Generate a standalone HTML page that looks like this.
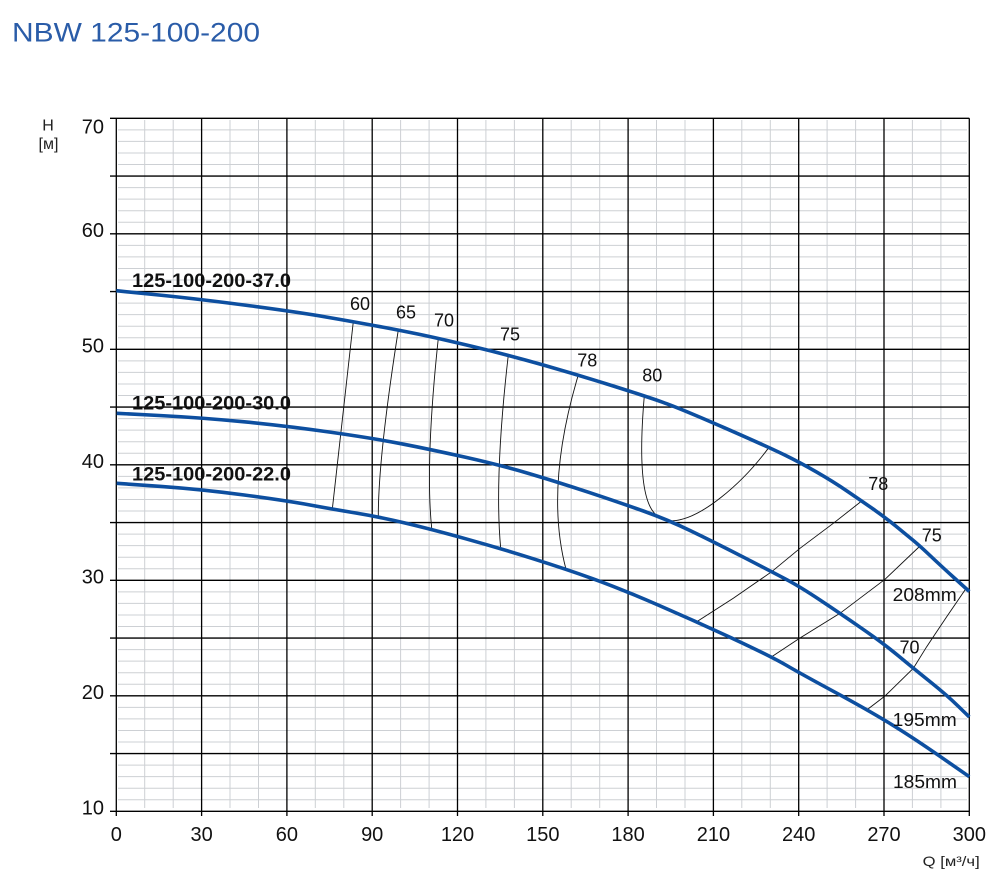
<!DOCTYPE html>
<html>
<head>
<meta charset="utf-8">
<style>
html,body{margin:0;padding:0;background:#fff;}
svg{display:block;}
text{font-family:"Liberation Sans","Noto Sans CJK SC",sans-serif;}
</style>
</head>
<body>
<svg width="1001" height="882" viewBox="0 0 1001 882" xmlns="http://www.w3.org/2000/svg">
<rect x="0" y="0" width="1001" height="882" fill="#fff"/>

<!-- title -->
<text x="12" y="41.5" font-size="27" fill="#2a5ca8" textLength="248" lengthAdjust="spacingAndGlyphs">NBW 125-100-200</text>

<!-- minor grid horizontal -->
<path fill="none" stroke="#cdd0d4" stroke-width="1" d="
M118 799.75H967M118 788.2H967M118 776.65H967M118 765.1H967
M118 742H967M118 730.45H967M118 718.9H967M118 707.35H967
M118 684.25H967M118 672.7H967M118 661.15H967M118 649.6H967
M118 626.5H967M118 614.95H967M118 603.4H967M118 591.85H967
M118 568.75H967M118 557.2H967M118 545.65H967M118 534.1H967
M118 511H967M118 499.45H967M118 487.9H967M118 476.35H967
M118 453.25H967M118 441.7H967M118 430.15H967M118 418.6H967
M118 395.5H967M118 383.95H967M118 372.4H967M118 360.85H967
M118 337.75H967M118 326.2H967M118 314.65H967M118 303.1H967
M118 280H967M118 268.45H967M118 256.9H967M118 245.35H967
M118 222.25H967M118 210.7H967M118 199.15H967M118 187.6H967
M118 164.5H967M118 152.95H967M118 141.4H967M118 129.85H967"/>

<!-- minor grid vertical -->
<path fill="none" stroke="#cdd0d4" stroke-width="1" d="
M144.7 120V808M173.2 120V808M230 120V808M258.5 120V808
M315.3 120V808M343.8 120V808M400.6 120V808M429.1 120V808
M485.9 120V808M514.4 120V808M571.2 120V808M599.7 120V808
M656.5 120V808M685 120V808M741.8 120V808M770.3 120V808
M827.1 120V808M855.6 120V808M912.4 120V808M940.9 120V808"/>

<!-- major grid horizontal (with left ticks) -->
<path fill="none" stroke="#000" stroke-width="1.3" d="
M110 811.3H969.3M110 753.55H969.3M110 695.8H969.3M110 638.05H969.3
M110 580.3H969.3M110 522.55H969.3M110 464.8H969.3M110 407.05H969.3
M110 349.3H969.3M110 291.55H969.3M110 233.8H969.3M110 176.05H969.3
M110 118.3H969.3"/>

<!-- major grid vertical (with bottom ticks) -->
<path fill="none" stroke="#000" stroke-width="1.3" d="
M116.3 118.3V816M201.6 118.3V816M286.9 118.3V816M372.2 118.3V816
M457.5 118.3V816M542.8 118.3V816M628.1 118.3V816M713.4 118.3V816
M798.7 118.3V816M884 118.3V816M969.3 118.3V816"/>

<!-- y tick labels -->
<g font-size="20" fill="#111" text-anchor="end">
<text x="104" y="133.3">70</text>
<text x="104" y="236.8">60</text>
<text x="104" y="352.3">50</text>
<text x="104" y="467.8">40</text>
<text x="104" y="583.3">30</text>
<text x="104" y="698.8">20</text>
<text x="104" y="814.3">10</text>
</g>
<!-- x tick labels -->
<g font-size="20" fill="#111" text-anchor="middle">
<text x="116.3" y="841">0</text>
<text x="201.6" y="841">30</text>
<text x="286.9" y="841">60</text>
<text x="372.2" y="841">90</text>
<text x="457.5" y="841">120</text>
<text x="542.8" y="841">150</text>
<text x="628.1" y="841">180</text>
<text x="713.4" y="841">210</text>
<text x="798.7" y="841">240</text>
<text x="884" y="841">270</text>
<text x="969.3" y="841">300</text>
</g>

<!-- axis titles -->
<text x="48" y="130.5" font-size="16" fill="#222" text-anchor="middle">H</text>
<text x="48.5" y="149" font-size="16" fill="#222" text-anchor="middle">[м]</text>
<text x="922.7" y="866" font-size="14" fill="#222" textLength="57" lengthAdjust="spacingAndGlyphs">Q [м³/ч]</text>

<!-- efficiency lines -->
<g fill="none" stroke="#111" stroke-width="0.9">
<path d="M353.3,321.7 Q338.6,451.1 332.3,509.3"/>
<path d="M398.3,330 Q378.3,457 378.3,516"/>
<path d="M438.3,338.3 Q425,463.3 431.7,528.3"/>
<path d="M508.3,355 Q494.1,478.35 500.7,548.3"/>
<path d="M578.3,375 Q544.45,487.85 566,569.3"/>
<path d="M644.3,396 C640.5,440 639,490 652,510 C658,519 665,521.5 672,520.8 C700,520 742,484 769,447.3"/>
<path d="M861.7,501 L833.3,523.3 L800,548.3 L771.7,571.7 L733.3,598.3 L696.7,621.7"/>
<path d="M920,546 L885,579.3 L840,613.3 L800,638 L771.7,656.7"/>
<path d="M965,590 L946.7,616.7 L926.7,646.7 L913.3,668.3 L885,696 L866.7,710"/>
</g>

<!-- pump curves -->
<g fill="none" stroke="#0d4fa0" stroke-width="3.6" stroke-linejoin="round" stroke-linecap="butt">
<path d="M116.3,290.7 L158.8,295 Q201.3,299.3 250.65,305.9 Q300,312.5 326.65,317.1 Q353.3,321.7 375.8,325.85 Q398.3,330 418.3,334.15 Q438.3,338.3 473.3,346.65 Q508.3,355 543.3,365 Q578.3,375 611.65,385.5 Q645,396 662.5,402.15 Q680,408.3 724.5,427.8 Q769,447.3 784.5,454.9 Q800,462.5 816.65,472.1 Q833.3,481.7 847.5,491.35 Q861.7,501 873.35,509.15 Q885,517.3 895.85,526.15 Q906.7,535 913.35,540.5 Q920,546 930,555.5 Q940,565 954.65,578.25 L969.3,591.5"/>
<path d="M116.7,413.3 L159.2,415.5 Q201.7,417.7 244.2,421.85 Q286.7,426 330,432.15 Q373.3,438.3 401.65,443.8 Q430,449.3 465,457.15 Q500,465 528.35,473.35 Q556.7,481.7 588.35,492.2 Q620,502.7 643.35,511 Q666.7,519.3 690,530.5 Q713.3,541.7 742.5,556.7 Q771.7,571.7 785.85,579.2 Q800,586.7 820,600 Q840,613.3 861.65,628.3 Q883.3,643.3 898.3,655.8 Q913.3,668.3 930,681.65 Q946.7,695 958,706 L969.3,717"/>
<path d="M116.7,483.3 L159.2,486.3 Q201.7,489.3 244.2,495 Q286.7,500.7 310,505 Q333.3,509.3 355.8,513 Q378.3,516.7 405,523 Q431.7,529.3 465.85,538.8 Q500,548.3 533.35,558.8 Q566.7,569.3 593.35,578.9 Q620,588.5 658.35,605.1 Q696.7,621.7 734.2,639.2 Q771.7,656.7 785.85,665 Q800,673.3 833.35,691.3 Q866.7,709.3 889.2,723 Q911.7,736.7 940.5,756.7 L969.3,776.7"/>
</g>

<!-- curve labels -->
<g font-size="19" font-weight="bold" fill="#111">
<text x="132" y="287" textLength="159" lengthAdjust="spacingAndGlyphs">125-100-200-37.0</text>
<text x="132" y="409.3" textLength="159" lengthAdjust="spacingAndGlyphs">125-100-200-30.0</text>
<text x="132" y="480.5" textLength="159" lengthAdjust="spacingAndGlyphs">125-100-200-22.0</text>
</g>

<!-- efficiency labels -->
<g font-size="18" fill="#111">
<text x="350" y="310">60</text>
<text x="396" y="318.3">65</text>
<text x="434" y="326.7">70</text>
<text x="500" y="340.7">75</text>
<text x="577.3" y="366.7">78</text>
<text x="642.3" y="381.7">80</text>
<text x="868.3" y="490">78</text>
<text x="921.7" y="541.7">75</text>
<text x="899.5" y="653.3">70</text>
<text x="892.7" y="601" textLength="64" lengthAdjust="spacingAndGlyphs">208mm</text>
<text x="892.7" y="726" textLength="64" lengthAdjust="spacingAndGlyphs">195mm</text>
<text x="893" y="788" textLength="64" lengthAdjust="spacingAndGlyphs">185mm</text>
</g>
</svg>
</body>
</html>
